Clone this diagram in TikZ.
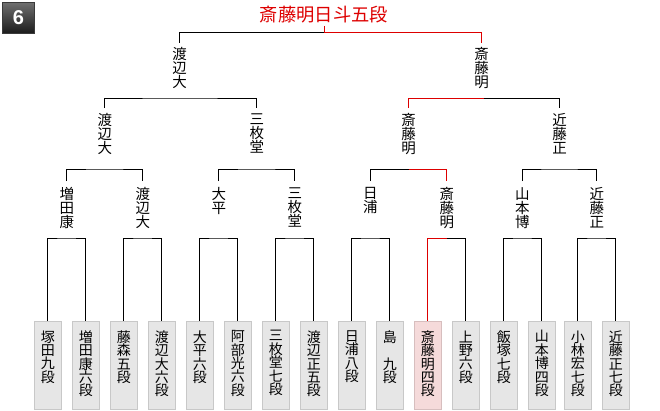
\documentclass[tikz,border=0pt]{standalone}
\usepackage{fontspec}
\newfontfamily\jp{Noto Sans CJK JP}
\setsansfont{Liberation Sans}
\definecolor{winred}{RGB}{221,0,0}
\definecolor{boxfill}{RGB}{230,230,230}
\definecolor{boxline}{RGB}{200,200,200}
\definecolor{winfill}{RGB}{245,218,218}
\definecolor{winline}{RGB}{215,190,190}
\begin{document}
\begin{tikzpicture}[x=1pt,y=-1pt,line width=1pt,
  win/.style={draw=winred},
  namelbl/.style={font=\jp\fontsize{14.5}{14}\selectfont, inner sep=0pt, anchor=north, align=center},
  boxlbl/.style={font=\jp\fontsize{14}{13.4}\selectfont, inner sep=0pt, anchor=north, align=center},
  entrybox/.style={draw=boxline, fill=boxfill, minimum width=26.5pt, minimum height=88pt, inner sep=0pt, anchor=north},
  winbox/.style={entrybox, draw=winline, fill=winfill},
  badgebox/.style={draw={rgb,255:red,58;green,58;blue,58}, top color={rgb,255:red,112;green,112;blue,112}, bottom color={rgb,255:red,28;green,28;blue,28}, minimum width=32pt, minimum height=31pt, inner sep=0pt, text=white, font=\sffamily\bfseries\fontsize{20}{20}\selectfont},
  titlelbl/.style={font=\jp\fontsize{18.3}{18}\selectfont, text=winred, inner sep=0pt}]
\useasboundingbox (0,0) rectangle (660,410);

% badge
\node[badgebox] (badge) at (18.5,17.5) {6};

% entrant boxes
\node[entrybox] (e1)  at (47.75,320.5) {};
\node[entrybox] (e2)  at (85.75,320.5) {};
\node[entrybox] (e3)  at (123.75,320.5) {};
\node[entrybox] (e4)  at (161.75,320.5) {};
\node[entrybox] (e5)  at (199.75,320.5) {};
\node[entrybox] (e6)  at (237.75,320.5) {};
\node[entrybox] (e7)  at (275.75,320.5) {};
\node[entrybox] (e8)  at (313.75,320.5) {};
\node[entrybox] (e9)  at (351.75,320.5) {};
\node[entrybox] (e10) at (389.75,320.5) {};
\node[winbox]   (e11) at (427.75,320.5) {};
\node[entrybox] (e12) at (465.75,320.5) {};
\node[entrybox] (e13) at (503.75,320.5) {};
\node[entrybox] (e14) at (541.75,320.5) {};
\node[entrybox] (e15) at (577.75,320.5) {};
\node[entrybox] (e16) at (615.75,320.5) {};

\node[boxlbl] (t1)  at ([yshift=-9.5pt]e1.north)  {塚\\田\\九\\段};
\node[boxlbl] (t2)  at ([yshift=-9.5pt]e2.north)  {増\\田\\康\\六\\段};
\node[boxlbl] (t3)  at ([yshift=-9.5pt]e3.north)  {藤\\森\\五\\段};
\node[boxlbl] (t4)  at ([yshift=-9.5pt]e4.north)  {渡\\辺\\大\\六\\段};
\node[boxlbl] (t5)  at ([yshift=-9.5pt]e5.north)  {大\\平\\六\\段};
\node[boxlbl] (t6)  at ([yshift=-9.5pt]e6.north)  {阿\\部\\光\\六\\段};
\node[boxlbl] (t7)  at ([yshift=-9.5pt]e7.north)  {三\\枚\\堂\\七\\段};
\node[boxlbl] (t8)  at ([yshift=-9.5pt]e8.north)  {渡\\辺\\正\\五\\段};
\node[boxlbl] (t9)  at ([yshift=-9.5pt]e9.north)  {日\\浦\\八\\段};
\node[boxlbl] (t10) at ([yshift=-9.5pt]e10.north) {島\\　\\九\\段};
\node[boxlbl] (t11) at ([yshift=-9.5pt]e11.north) {斎\\藤\\明\\四\\段};
\node[boxlbl] (t12) at ([yshift=-9.5pt]e12.north) {上\\野\\六\\段};
\node[boxlbl] (t13) at ([yshift=-9.5pt]e13.north) {飯\\塚\\七\\段};
\node[boxlbl] (t14) at ([yshift=-9.5pt]e14.north) {山\\本\\博\\四\\段};
\node[boxlbl] (t15) at ([yshift=-9.5pt]e15.north) {小\\林\\宏\\七\\段};
\node[boxlbl] (t16) at ([yshift=-9.5pt]e16.north) {近\\藤\\正\\七\\段};

% round 1 winners
\node[namelbl] (m1) at (66.75,187)  {増\\田\\康};
\node[namelbl] (m2) at (142.75,187) {渡\\辺\\大};
\node[namelbl] (m3) at (218.75,187) {大\\平};
\node[namelbl] (m4) at (294.75,187) {三\\枚\\堂};
\node[namelbl] (m5) at (370.25,187) {日\\浦};
\node[namelbl] (m6) at (446.75,187) {斎\\藤\\明};
\node[namelbl] (m7) at (522.25,187) {山\\本\\博};
\node[namelbl] (m8) at (596.75,187) {近\\藤\\正};

\coordinate (j1) at (66.75,238);
\coordinate (j2) at (142.75,238);
\coordinate (j3) at (218.75,238);
\coordinate (j4) at (294.75,238);
\coordinate (j5) at (370.25,238);
\coordinate (j6) at (446.75,238);
\coordinate (j7) at (522.25,238);
\coordinate (j8) at (596.75,238);

\draw (e1.north) |- (j1) -| (e2.north);
\draw (e3.north) |- (j2) -| (e4.north);
\draw (e5.north) |- (j3) -| (e6.north);
\draw (e7.north) |- (j4) -| (e8.north);
\draw (e9.north) |- (j5) -| (e10.north);
\draw[win] (e11.north) |- (j6);
\draw (j6) -| (e12.north);
\draw (e13.north) |- (j7) -| (e14.north);
\draw (e15.north) |- (j8) -| (e16.north);

% round 2 winners
\node[namelbl] (n1) at (104.75,113) {渡\\辺\\大};
\node[namelbl] (n2) at (256.75,113) {三\\枚\\堂};
\node[namelbl] (n3) at (408.5,113)  {斎\\藤\\明};
\node[namelbl] (n4) at (559.5,113)  {近\\藤\\正};

\coordinate (k1) at (104.75,169);
\coordinate (k2) at (256.75,169);
\coordinate (k3) at (408.5,169);
\coordinate (k4) at (559.5,169);

\draw ([yshift=6pt]m1.north) |- (k1) -| ([yshift=6pt]m2.north);
\draw ([yshift=6pt]m3.north) |- (k2) -| ([yshift=6pt]m4.north);
\draw ([yshift=6pt]m5.north) |- (k3);
\draw[win] (k3) -| ([yshift=6pt]m6.north);
\draw ([yshift=6pt]m7.north) |- (k4) -| ([yshift=6pt]m8.north);

% round 3 winners
\node[namelbl] (q1) at (179.5,47) {渡\\辺\\大};
\node[namelbl] (q2) at (481.5,47) {斎\\藤\\明};

\coordinate (p1) at (179.5,98);
\coordinate (p2) at (483.5,98);

\draw ([yshift=5pt]n1.north) |- (p1) -| ([yshift=5pt]n2.north);
\draw[win] ([yshift=5pt]n3.north) |- (p2);
\draw (p2) -| ([yshift=5pt]n4.north);

% champion
\node[titlelbl] (champ) at (324,15) {斎藤明日斗五段};
\coordinate (r) at (324,32);
\draw[win] ([yshift=-2pt]champ.south) -- (r);
\draw (r) -| ([yshift=4pt]q1.north);
\draw[win] (r) -| ([yshift=4pt]q2.north);
\end{tikzpicture}
\end{document}
